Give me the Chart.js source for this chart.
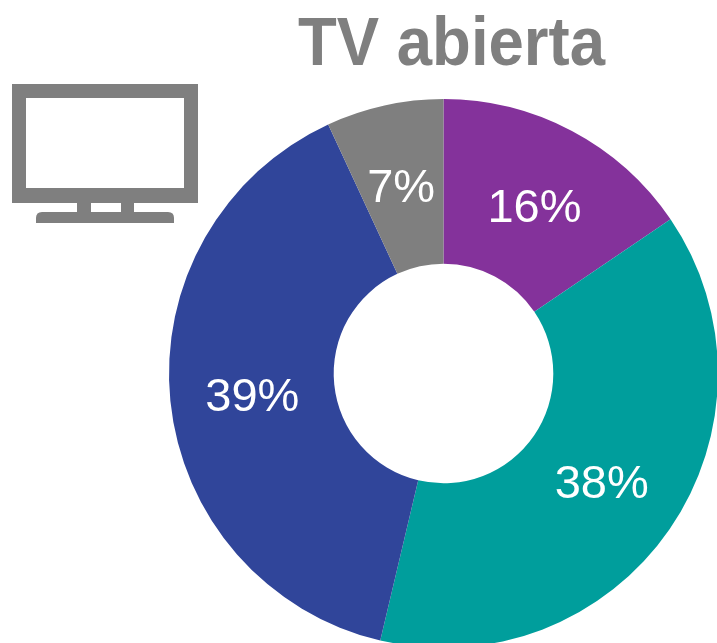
<!DOCTYPE html>
<html><head><meta charset="utf-8">
<style>
html,body{margin:0;padding:0;width:717px;height:643px;overflow:hidden;background:#fff}
#wrap{position:absolute;left:0;top:0;width:718px;height:662px}
#title{position:absolute;left:298px;top:7px;font:bold 63.5px "Liberation Sans",Arial,sans-serif;color:#7f7f7f;white-space:nowrap;line-height:72px;transform:scaleY(1.07);transform-origin:0 57px}
#icon{position:absolute;left:0;top:0}
</style></head><body>
<div id="wrap"><canvas id="c" width="718" height="662"></canvas></div>
<div id="title">TV abierta</div>
<svg id="icon" width="210" height="235">
<rect x="12" y="84" width="186" height="119" fill="#7f7f7f"/>
<rect x="26" y="98" width="158" height="90" fill="#fff"/>
<rect x="77" y="203" width="14" height="10" fill="#7f7f7f"/>
<rect x="121" y="203" width="13" height="10" fill="#7f7f7f"/>
<path d="M36 223V218Q36 212 42 212H168Q174 212 174 218V223Z" fill="#7f7f7f"/>
</svg>
<script src="https://cdn.jsdelivr.net/npm/chart.js@4/dist/chart.umd.js"></script>
<script>
const categories = ["Morado","Verde","Azul","Gris"];
const values = [15.5,38.2,39.4,6.9];
const colors = ["#84329b","#009e9c","#30459a","#7f7f7f"];
const labelPlugin = {
  id:"sliceLabels",
  afterDatasetsDraw(chart){
    const ctx = chart.ctx, meta = chart.getDatasetMeta(0);
    const nudge = [[1,5],[0,3],[0,5],[-1,3]];
    ctx.font = '47px "Liberation Sans",Arial,sans-serif';
    ctx.fillStyle = "#fff"; ctx.textAlign = "center"; ctx.textBaseline = "middle";
    meta.data.forEach((arc,i)=>{
      const p = arc.tooltipPosition();
      ctx.fillText(Math.round(values[i])+"%",p.x+nudge[i][0],p.y+nudge[i][1]);
    });
  }
};
new Chart(document.getElementById("c"),{
  type:"doughnut",
  data:{labels:categories,datasets:[{data:values,backgroundColor:colors,borderWidth:0}]},
  options:{responsive:false,animation:false,cutout:"40%",
    layout:{padding:{left:169,top:99,right:0,bottom:14}},
    plugins:{legend:{display:false},tooltip:{enabled:false},title:{display:false}}},
  plugins:[labelPlugin]
});
</script>
</body></html>
